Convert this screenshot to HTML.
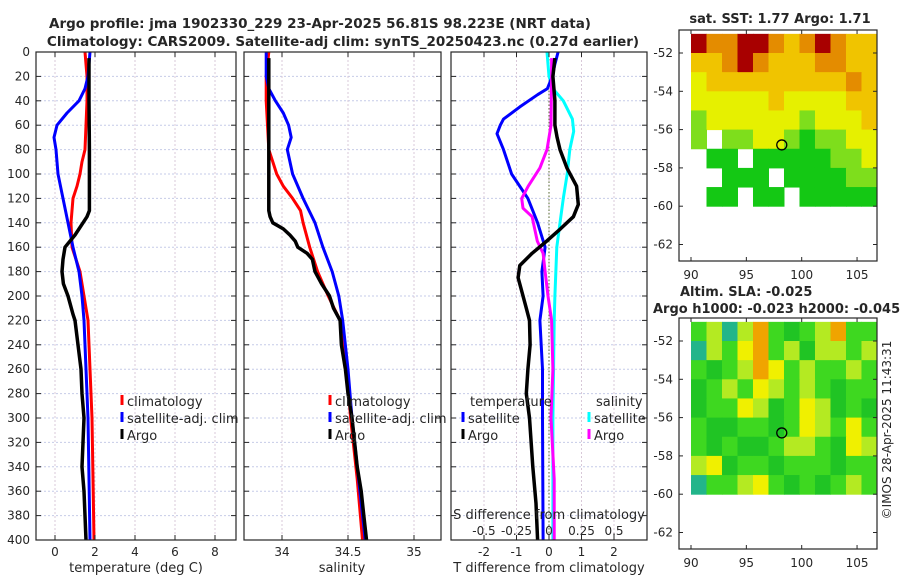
<!DOCTYPE html>
<html><head><meta charset="utf-8">
<style>
html,body{margin:0;padding:0;background:#fff;}
svg{display:block;font-family:"DejaVu Sans","Liberation Sans",sans-serif;}
</style></head>
<body>
<svg id="c" width="900" height="580" viewBox="0 0 900 580" xmlns="http://www.w3.org/2000/svg"></svg>
<script>
// ---------- Data ----------
const depthTicks=[0,20,40,60,80,100,120,140,160,180,200,220,240,260,280,300,320,340,360,380,400];
const tempTicks=[0,2,4,6,8];
const salTicks=[34,34.5,35];
const salTickLabels=["34","34.5","35"];
const tdiffTicks=[-2,-1,0,1,2];
const sdiffTicks=[-0.5,-0.25,0,0.25,0.5];
const sdiffTickLabels=["-0.5","-0.25","0","0.25","0.5"];

const tClimDepth=[0,20,40,60,80,90,100,110,120,140,160,180,200,220,260,300,400];
const tClimVal=[1.5,1.6,1.6,1.55,1.5,1.35,1.25,1.1,0.9,0.8,0.85,1.25,1.45,1.65,1.75,1.85,1.95];
const tSatDepth=[0,20,30,40,50,60,70,80,100,120,140,160,180,200,220,260,300,400];
const tSatVal=[1.75,1.65,1.5,1.2,0.6,0.1,-0.05,0.05,0.15,0.4,0.65,0.9,1.2,1.35,1.45,1.55,1.65,1.75];
const tArgoDepth=[5,40,80,130,135,140,150,160,170,180,190,200,215,220,240,260,280,300,320,340,360,380,400];
const tArgoVal=[1.7,1.7,1.72,1.72,1.6,1.4,1.0,0.5,0.4,0.35,0.42,0.65,0.9,1.0,1.15,1.3,1.35,1.45,1.4,1.35,1.45,1.5,1.55];

const sClimDepth=[0,20,40,60,80,90,100,110,120,130,140,160,180,200,220,260,300,350,400];
const sClimVal=[33.9,33.88,33.88,33.89,33.9,33.93,33.96,34.01,34.08,34.14,34.16,34.21,34.27,34.35,34.44,34.49,34.52,34.57,34.61];
const sSatDepth=[0,20,30,40,50,60,70,80,100,120,140,160,180,200,220,260,300,350,400];
const sSatVal=[33.88,33.88,33.9,33.95,34.01,34.05,34.07,34.04,34.08,34.16,34.25,34.31,34.38,34.43,34.46,34.5,34.53,34.58,34.63];
const sArgoDepth=[5,60,130,135,140,145,150,155,160,165,170,180,190,200,210,220,240,260,280,300,320,340,360,380,400];
const sArgoVal=[33.9,33.9,33.9,33.91,33.93,34.01,34.06,34.1,34.12,34.19,34.23,34.25,34.3,34.36,34.39,34.44,34.45,34.48,34.5,34.53,34.55,34.57,34.6,34.62,34.64];

const dtSatDepth=[0,10,20,30,35,45,55,60,67,80,100,120,140,160,180,200,220,260,300,400];
const dtSatVal=[0.28,0.18,0.1,-0.05,-0.35,-0.9,-1.4,-1.5,-1.6,-1.4,-1.15,-0.65,-0.35,-0.12,-0.22,-0.18,-0.28,-0.2,-0.2,-0.18];
const dtArgoDepth=[5,20,40,60,70,80,95,110,125,135,145,155,165,175,185,195,210,220,240,260,280,300,340,370,400];
const dtArgoVal=[0.18,0.12,0.18,0.18,0.25,0.34,0.55,0.85,0.9,0.75,0.35,-0.07,-0.52,-0.9,-0.95,-0.85,-0.7,-0.6,-0.58,-0.65,-0.7,-0.6,-0.5,-0.4,-0.35];
const dsSatDepth=[0,20,30,40,55,65,80,100,120,140,160,200,220,300,400];
const dsSatVal=[-0.015,0,0.03,0.11,0.18,0.19,0.16,0.14,0.11,0.085,0.06,0.045,0.04,0.03,0.03];
const dsArgoDepth=[5,20,60,80,95,110,120,128,135,145,155,165,180,200,220,260,300,350,400];
const dsArgoVal=[0.02,0.02,0.015,-0.015,-0.07,-0.16,-0.21,-0.2,-0.13,-0.11,-0.09,-0.045,-0.03,-0.008,0.02,0.03,0.015,0.04,0.04];

const latTicks=[-52,-54,-56,-58,-60,-62];
const lonTicks=[90,95,100,105];
const sstGrid=[
[5,4,4,5,5,4,3,4,5,4,3,3],
[3,3,4,5,4,3,3,3,4,4,3,3],
[2,3,3,3,3,3,3,3,3,3,4,3],
[2,2,2,2,2,3,2,2,2,2,3,3],
[1,2,2,2,2,2,2,1,2,2,2,3],
[1,null,1,1,2,2,1,0,1,1,2,2],
[null,0,0,null,0,0,0,0,0,1,1,2],
[null,null,0,0,0,null,0,0,0,0,1,1],
[null,0,0,null,0,0,null,0,0,0,0,0]];
const slaGrid=[
[1,2,-1,2,4,1,0,1,2,4,1,1],
[-1,2,1,3,4,1,2,0,2,2,1,2],
[1,0,1,2,4,3,1,2,1,1,2,1],
[0,1,2,1,3,2,1,2,1,0,1,1],
[0,1,1,3,2,0,1,3,2,0,1,0],
[1,0,0,1,1,0,1,3,2,1,3,1],
[1,0,1,0,0,1,2,2,1,0,3,2],
[2,3,0,1,1,0,1,1,1,0,1,1],
[-1,1,1,2,3,1,0,1,0,1,2,1]];
const argoLon=98.2, argoLat=-56.8;

// ---------- helpers ----------
const NS="http://www.w3.org/2000/svg";
const svg=document.getElementById('c');
function mk(tag,attrs,parent){const e=document.createElementNS(NS,tag);for(const k in attrs)e.setAttribute(k,attrs[k]);(parent||svg).appendChild(e);return e;}
function txt(x,y,s,anchor,size,weight,parent){const t=mk('text',{x:x,y:y,'text-anchor':anchor||'middle','font-size':size||12,'font-weight':weight||'normal',fill:'#262626'},parent);t.textContent=s;return t;}

const Y0=52,Y1=540;
const yD=d=>Y0+(Y1-Y0)*d/400;
const P1={x0:36,x1:236,sx:v=>55+20*v};
const P2={x0:244,x1:441,sx:v=>282+132*(v-34)};
const P3={x0:451,x1:647,sx:v=>549+32.5*v, ss:v=>549+130*v};

function panel(P,name){
  const g=mk('g',{});
  
  
  return g;
}
function grid(g,P,xt,fx){
  depthTicks.forEach(d=>{mk('line',{x1:P.x0,x2:P.x1,y1:yD(d),y2:yD(d),stroke:'#c6cbe8','stroke-width':1,'stroke-dasharray':'2,2'},g);});
  xt.forEach(v=>{mk('line',{x1:fx(v),x2:fx(v),y1:Y0,y2:Y1,stroke:'#d8c8d8','stroke-width':1,'stroke-dasharray':'2,2'},g);});
}
function frame(g,P,xt,fx,labels){
  mk('rect',{x:P.x0,y:Y0,width:P.x1-P.x0,height:Y1-Y0,fill:'none',stroke:'#262626','stroke-width':1.2},g);
  depthTicks.forEach(d=>{
    mk('line',{x1:P.x0,x2:P.x0+5,y1:yD(d),y2:yD(d),stroke:'#262626'},g);
    mk('line',{x1:P.x1-5,x2:P.x1,y1:yD(d),y2:yD(d),stroke:'#262626'},g);
  });
  xt.forEach((v,i)=>{
    mk('line',{x1:fx(v),x2:fx(v),y1:Y1,y2:Y1-5,stroke:'#262626'},g);
    mk('line',{x1:fx(v),x2:fx(v),y1:Y0,y2:Y0+5,stroke:'#262626'},g);
    const t=txt(fx(v),556,labels?labels[i]:String(v),'middle',12,'normal',g);
    
    
  });
}
function line(g,depths,vals,fx,color,w,name){
  const pts=depths.map((d,i)=>fx(vals[i]).toFixed(1)+','+yD(d).toFixed(1)).join(' ');
  const p=mk('polyline',{points:pts,fill:'none',stroke:color,'stroke-width':w||3,'stroke-linejoin':'round'},g);
  
  
}
function legendEntry(g,x,y,color,label,name){
  const e=mk('g',{},g);
  
  
  if(color) mk('line',{x1:x,x2:x,y1:y-11,y2:y-1,stroke:color,'stroke-width':3},e);
  txt(x+(color?5:0),y,label,'start',13,'normal',e);
}

// ---------- Title ----------
const t1=txt(320,28,'Argo profile: jma 1902330_229 23-Apr-2025 56.81S 98.223E (NRT data)','middle',13.5,'bold');

const t2=txt(343,46,'Climatology: CARS2009. Satellite-adj clim: synTS_20250423.nc (0.27d earlier)','middle',13.5,'bold');


// depth labels
const dl=mk('g',{});

depthTicks.forEach(d=>txt(30,yD(d)+4,String(d),'end',12,'normal',dl));

// ---------- Panel 1 ----------
let g=panel(P1,'temperature-panel');
grid(g,P1,tempTicks,P1.sx);
line(g,tClimDepth,tClimVal,P1.sx,'#ff0000',3,'temp-climatology-line');
line(g,tSatDepth,tSatVal,P1.sx,'#0000ff',3,'temp-satellite-line');
line(g,tArgoDepth,tArgoVal,P1.sx,'#000000',3.5,'temp-argo-line');
frame(g,P1,tempTicks,P1.sx);
txt(136,572,'temperature (deg C)','middle',13,'normal',g);
legendEntry(g,122,406,'#ff0000','climatology','legend-climatology');
legendEntry(g,122,423,'#0000ff','satellite-adj. clim','legend-satellite');
legendEntry(g,122,440,'#000000','Argo','legend-argo');

// ---------- Panel 2 ----------
g=panel(P2,'salinity-panel');
grid(g,P2,salTicks,P2.sx);
line(g,sClimDepth,sClimVal,P2.sx,'#ff0000',3,'sal-climatology-line');
line(g,sSatDepth,sSatVal,P2.sx,'#0000ff',3,'sal-satellite-line');
line(g,sArgoDepth,sArgoVal,P2.sx,'#000000',3.5,'sal-argo-line');
frame(g,P2,salTicks,P2.sx,salTickLabels);
txt(342,572,'salinity','middle',13,'normal',g);
legendEntry(g,330,406,'#ff0000','climatology','legend-climatology');
legendEntry(g,330,423,'#0000ff','satellite-adj. clim','legend-satellite');
legendEntry(g,330,440,'#000000','Argo','legend-argo');

// ---------- Panel 3 ----------
g=panel(P3,'difference-panel');
grid(g,P3,tdiffTicks,P3.sx);
mk('line',{x1:P3.sx(0),x2:P3.sx(0),y1:Y0,y2:Y1,stroke:'#556b2f','stroke-width':1,'stroke-dasharray':'1.5,2'},g);
line(g,dsSatDepth,dsSatVal,P3.ss,'#00ffff',3,'sdiff-satellite-line');
line(g,dtSatDepth,dtSatVal,P3.sx,'#0000ff',3,'tdiff-satellite-line');
line(g,dsArgoDepth,dsArgoVal,P3.ss,'#ff00ff',3,'sdiff-argo-line');
line(g,dtArgoDepth,dtArgoVal,P3.sx,'#000000',3.5,'tdiff-argo-line');
frame(g,P3,tdiffTicks,P3.sx);
txt(549,572,'T difference from climatology','middle',13,'normal',g);
txt(549,519,'S difference from climatology','middle',13,'normal',g);
sdiffTicks.forEach((v,i)=>{const t=txt(P3.ss(v),535,sdiffTickLabels[i],'middle',12,'normal',g);
 });
legendEntry(g,470,406,null,'temperature','legend-temperature-header');
legendEntry(g,463,423,'#0000ff','satellite','legend-t-satellite');
legendEntry(g,463,440,'#000000','Argo','legend-t-argo');
legendEntry(g,596,406,null,'salinity','legend-salinity-header');
legendEntry(g,589,423,'#00ffff','satellite','legend-s-satellite');
legendEntry(g,589,440,'#ff00ff','Argo','legend-s-argo');

// ---------- Maps ----------
const sstColors={0:'#14c814',1:'#7ede1c',2:'#e6f000',3:'#f0c400',4:'#e48c00',5:'#a80000'};
const slaColors={'-1':'#22b58a',0:'#20c424',1:'#3ed820',2:'#b4ea22',3:'#f0f000',4:'#f0a400'};
function map(name,top,latTop,gridData,colors){
  const M={x0:679,x1:877,lon:v=>691+(v-90)*11.07,lat:v=>top+23+(-52-v)*19.15};
  const mg=mk('g',{});
  
  const rows=gridData.length, cols=gridData[0].length;
  const lonW=(106.8-90)/cols;
  gridData.forEach((row,r)=>row.forEach((v,c)=>{
    if(v===null) return;
    const xa=M.lon(90+c*lonW), xb=M.lon(90+(c+1)*lonW);
    const ya=M.lat(-51-r), yb=M.lat(-52-r);
    const cell=mk('rect',{x:xa,y:ya,width:xb-xa+0.5,height:yb-ya+0.5,fill:colors[v]},mg);
    
    
  }));
  mk('rect',{x:M.x0,y:top,width:M.x1-M.x0,height:231,fill:'none',stroke:'#262626','stroke-width':1.2},mg);
  latTicks.forEach(v=>{
    mk('line',{x1:M.x0,x2:M.x0+4,y1:M.lat(v),y2:M.lat(v),stroke:'#262626'},mg);
    mk('line',{x1:M.x1-4,x2:M.x1,y1:M.lat(v),y2:M.lat(v),stroke:'#262626'},mg);
    txt(673,M.lat(v)+4,String(v),'end',12,'normal',mg);
  });
  lonTicks.forEach(v=>{
    mk('line',{x1:M.lon(v),x2:M.lon(v),y1:top+231,y2:top+227,stroke:'#262626'},mg);
    mk('line',{x1:M.lon(v),x2:M.lon(v),y1:top,y2:top+4,stroke:'#262626'},mg);
    txt(M.lon(v),top+249,String(v),'middle',12,'normal',mg);
  });
  const m=mk('circle',{cx:M.lon(argoLon),cy:M.lat(argoLat),r:5,fill:'none',stroke:'#000','stroke-width':1.3},mg);
  
  
}
map('sst-map',30,-51,sstGrid,sstColors);
map('sla-map',318,-51,slaGrid,slaColors);
const mt=txt(780,23,'sat. SST: 1.77 Argo: 1.71','middle',13,'bold');

const mt2=txt(680,296,'Altim. SLA: -0.025','start',13,'bold');

const mt3=txt(653,313,'Argo h1000: -0.023 h2000: -0.045','start',13,'bold');

const cp=txt(0,0,'©IMOS 28-Apr-2025 11:43:31','middle',12,'normal');
cp.setAttribute('transform','translate(891,430) rotate(-90)');

</script>
</body></html>
